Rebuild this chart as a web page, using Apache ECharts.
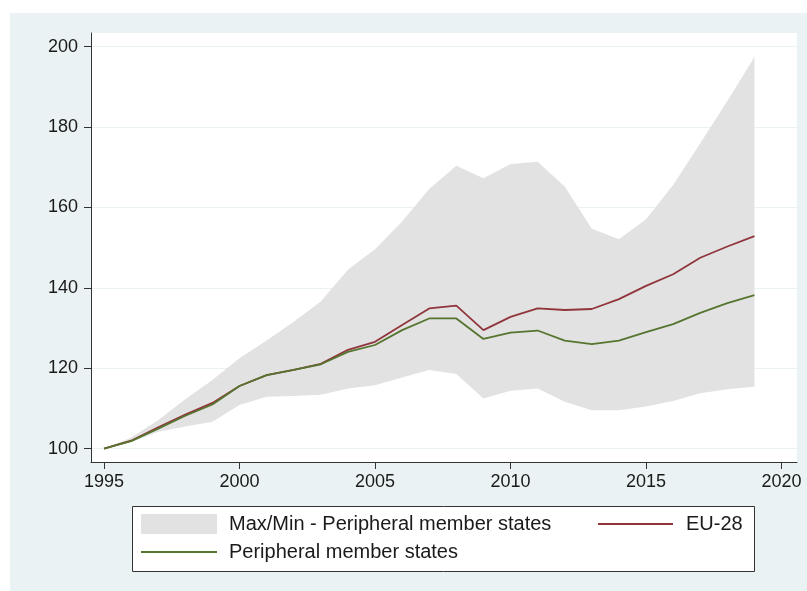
<!DOCTYPE html>
<html>
<head>
<meta charset="utf-8">
<script src="https://cdn.jsdelivr.net/npm/echarts@6/dist/echarts.min.js"></script>
<style>
html,body{margin:0;padding:0;background:#ffffff;}
#bg{position:absolute;left:10px;top:13px;width:797px;height:578px;background:#eaf2f3;}
#chart{position:absolute;left:0;top:0;width:807px;height:591px;}
</style>
</head>
<body>
<div id="bg"></div>
<div id="chart"></div>
<script>
const years = [1995,1996,1997,1998,1999,2000,2001,2002,2003,2004,2005,2006,2007,2008,2009,2010,2011,2012,2013,2014,2015,2016,2017,2018,2019];
const eu28 = [100,102.0,105.3,108.5,111.4,115.6,118.3,119.6,121.1,124.6,126.6,130.8,134.9,135.6,129.5,132.8,134.9,134.5,134.75,137.2,140.5,143.4,147.5,150.3,152.9];
const peripheral = [100,101.9,105.0,108.2,111.0,115.6,118.3,119.6,121.0,124.1,125.8,129.5,132.4,132.4,127.3,128.9,129.4,126.9,126.0,126.9,129.0,131.0,133.8,136.2,138.2];
const bandMax = [100,102.8,107.1,112.3,117.1,122.5,126.9,131.6,136.6,144.5,149.6,156.5,164.6,170.4,167.3,170.8,171.4,165.2,154.7,152.1,157.1,165.6,176.0,186.5,197.4];
const bandMin = [100,101.6,104.2,105.5,106.7,110.9,112.9,113.1,113.4,115.0,115.8,117.7,119.6,118.6,112.5,114.4,115.0,111.7,109.6,109.6,110.5,111.9,113.8,114.8,115.4];
const xTicks = [1995,2000,2005,2010,2015,2020];
const yTicks = [100,120,140,160,180,200];

const bandName = 'Max/Min - Peripheral member states';
const euName = 'EU-28';
const perName = 'Peripheral member states';

const pair = arr => years.map((y,i) => [y, arr[i]]);
const bandData = years.map((y,i) => [y, bandMax[i], bandMin[i]]);

const FONT = "'Liberation Sans', Arial, sans-serif";
const AX = '#333333';
const BAND = '#e2e2e2';
const RED = '#90353b';
const GREEN = '#55752f';
const legText = {fontSize:20,color:'#1a1a1a',fontFamily:FONT};

const chart = echarts.init(document.getElementById('chart'), null, {renderer:'canvas'});
chart.setOption({
  animation:false,
  backgroundColor:'transparent',
  textStyle:{fontFamily:FONT},
  grid:{left:91,right:10,top:33,bottom:129,show:true,backgroundColor:'#ffffff',borderWidth:0},
  xAxis:{
    type:'value', min:1994.52, max:2020.57,
    axisLine:{show:true,onZero:false,lineStyle:{color:AX,width:1}},
    axisTick:{show:true,length:7,customValues:xTicks,lineStyle:{color:AX,width:1}},
    axisLabel:{customValues:xTicks,fontSize:18,color:'#1a1a1a',margin:11,fontFamily:FONT,formatter:v=>String(v)},
    splitLine:{show:false}
  },
  yAxis:{
    type:'value', min:96.7, max:203.4,
    axisLine:{show:true,onZero:false,lineStyle:{color:AX,width:1}},
    axisTick:{show:true,length:7,customValues:yTicks,lineStyle:{color:AX,width:1}},
    axisLabel:{customValues:yTicks,fontSize:18,color:'#1a1a1a',margin:13,fontFamily:FONT,formatter:v=>String(v)},
    splitLine:{show:true,lineStyle:{color:'#eaf2f3',width:1}}
  },
  graphic:[{type:'rect',left:132,top:506,shape:{width:622,height:65},style:{fill:'#ffffff',stroke:'#333333',lineWidth:1},z:1}],
  legend:[
    {left:136,top:509,itemWidth:76,itemHeight:20,z:10,
     textStyle:Object.assign({padding:[0,0,0,7]},legText),
     data:[{name:bandName,icon:'rect',itemStyle:{color:BAND}}]},
    {left:136,top:537,itemWidth:76,itemHeight:2,z:10,
     textStyle:Object.assign({padding:[0,0,0,7]},legText),
     data:[{name:perName,icon:'rect',itemStyle:{color:GREEN}}]},
    {left:593,top:509,itemWidth:75,itemHeight:2,z:10,
     textStyle:Object.assign({padding:[0,0,0,8]},legText),
     data:[{name:euName,icon:'rect',itemStyle:{color:RED}}]}
  ],
  series:[
    {name:bandName,type:'custom',data:bandData,silent:true,z:1,
     itemStyle:{color:BAND},
     encode:{x:0,y:[1,2]},
     renderItem:function(params, api){
       if (params.dataIndex !== 0) return null;
       const pts = [];
       for (let i=0;i<years.length;i++) pts.push(api.coord([years[i], bandMax[i]]));
       for (let i=years.length-1;i>=0;i--) pts.push(api.coord([years[i], bandMin[i]]));
       return {type:'polygon',shape:{points:pts},style:{fill:BAND}};
     }},
    {name:euName,type:'line',data:pair(eu28),symbol:'none',z:3,lineStyle:{color:RED,width:1.8},itemStyle:{color:RED}},
    {name:perName,type:'line',data:pair(peripheral),symbol:'none',z:3,lineStyle:{color:GREEN,width:1.8},itemStyle:{color:GREEN}}
  ]
});
</script>
</body>
</html>
